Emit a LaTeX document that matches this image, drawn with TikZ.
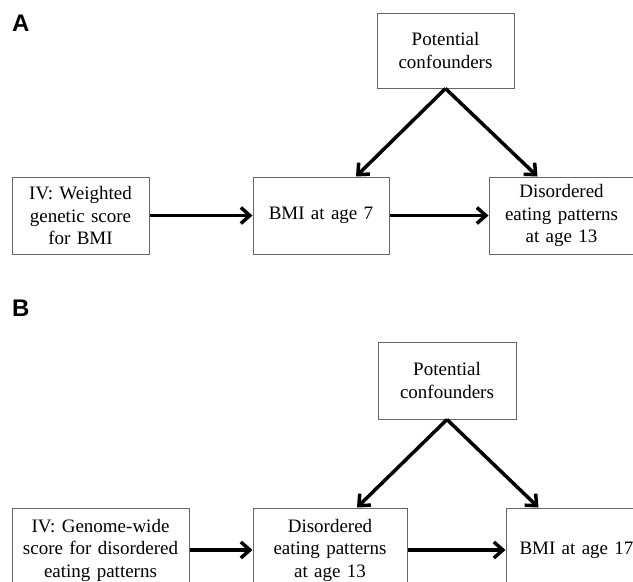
\documentclass[tikz,border=0pt]{standalone}
\usepackage{fontspec}
\setmainfont{Liberation Serif}
\newfontfamily\panelfont{Liberation Sans}
\usetikzlibrary{positioning}
\usetikzlibrary{arrows.meta}

\begin{document}
\begin{tikzpicture}[
    x=1pt, y=1pt,
    box/.style={draw=black!60, line width=1pt, minimum height=77pt, align=center, inner sep=3pt, font=\fontsize{19}{22.5}\selectfont},
    panel/.style={anchor=north west, inner sep=0pt, font=\panelfont\bfseries\fontsize{24}{24}\selectfont},
    edge/.style={-{Straight Barb[length=9pt,width=16pt]}, line width=3.5pt}
]

% Frame
\clip[use as bounding box] (0,0) rectangle (633,-582);

% Panel A
\node[panel] (labA) at (12,-15) {A};
\node[box, text width=131pt] (ivA) at (80.5,-215.5) {IV: Weighted\\genetic score\\for BMI};
\node[box, text width=130pt, right=103pt of ivA] (bmiA) {BMI at age 7};
\node[box, text width=139pt, right=99pt of bmiA] (eatA) {Disordered\\eating patterns\\at age 13};
\node[box, text width=131pt, minimum height=75pt] (confA) at (445.5,-50.5) {Potential\\confounders};

\draw[edge] (ivA) -- (bmiA);
\draw[edge] (bmiA) -- (eatA);
\draw[edge] (confA.south) -- ([xshift=35pt]bmiA.north);
\draw[edge] (confA.south) -- ([xshift=-24pt]eatA.north);

% Panel B
\node[panel] (labB) at (12,-300) {B};
\node[box, text width=171pt, minimum height=84pt] (ivB) at (100.5,-550) {IV: Genome-wide\\score for disordered\\eating patterns};
\node[box, text width=148pt, minimum height=84pt, right=63pt of ivB] (eatB) {Disordered\\eating patterns\\at age 13};
\node[box, text width=135pt, minimum height=84pt, right=98pt of eatB] (bmiB) {BMI at age 17};
\node[box, text width=132pt] (confB) at (447,-380.5) {Potential\\confounders};

\draw[edge] (ivB) -- (eatB);
\draw[edge] (eatB) -- (bmiB);
\draw[edge] (confB.south) -- ([xshift=27pt]eatB.north);
\draw[edge] (confB.south) -- ([xshift=-38pt]bmiB.north);

\end{tikzpicture}
\end{document}
